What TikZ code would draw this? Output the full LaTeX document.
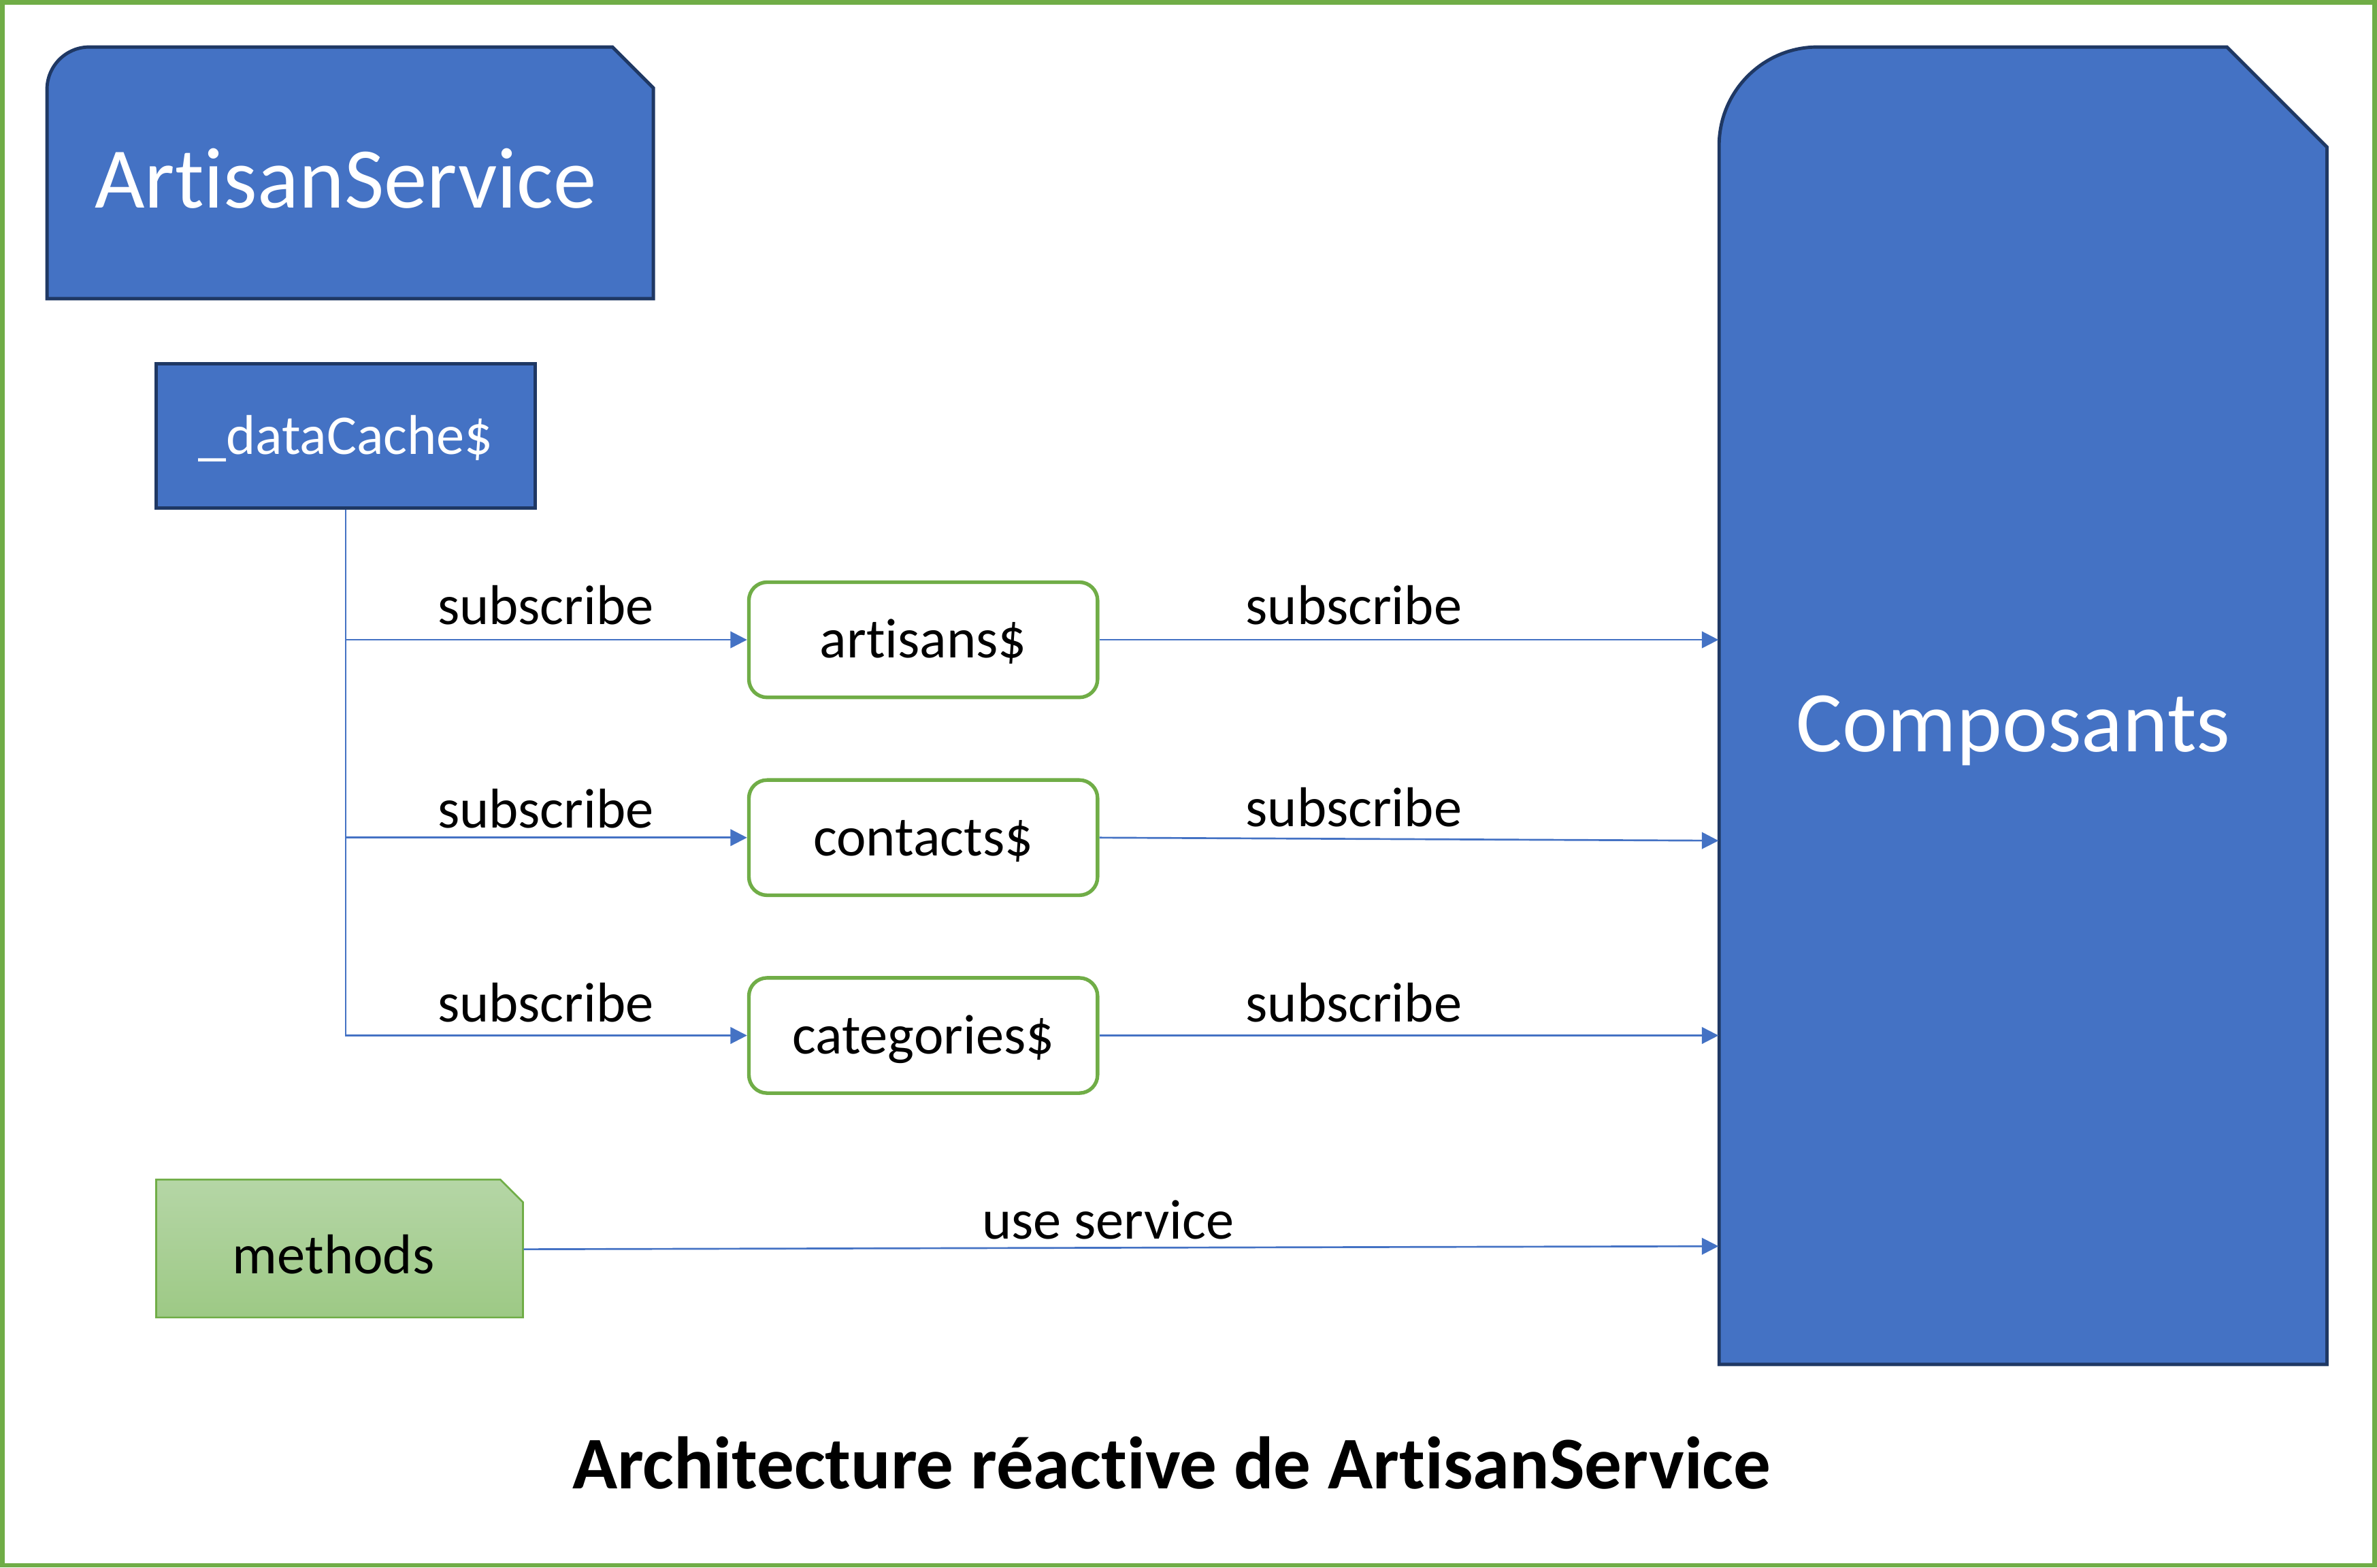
\documentclass[tikz,border=0pt]{standalone}
\usepackage{fontspec}
\setmainfont{Carlito}[Ligatures=NoCommon]
\usetikzlibrary{calc,arrows.meta}
\definecolor{blueF}{HTML}{4472C4}
\definecolor{navy}{HTML}{1F3864}
\definecolor{grn}{HTML}{70AD47}
\definecolor{gtop}{HTML}{B5D6A6}
\definecolor{gbot}{HTML}{9DC985}
\begin{document}
\begin{tikzpicture}[x=0.5pt,y=-0.5pt,
  smallfont/.style={font=\fontsize{18.5}{20}\selectfont},
  lbl/.style={smallfont, inner sep=0, anchor=base},
  conn/.style={draw=blueF, line width=0.6pt},
  arr/.style={conn, -{Triangle[length=5.5pt,width=5.5pt]}},
  stream/.style={draw=grn, line width=1.2pt, rounded corners=6pt, fill=white,
    minimum width=115pt, minimum height=38pt, inner sep=0, smallfont,
    text height=15pt, text depth=3pt},
  bigtxt/.style={text=white, font=\fontsize{28.5}{32}\selectfont, inner sep=0, anchor=base}]
\useasboundingbox (0,0) rectangle (1568,1034);
\draw[grn, line width=1.45pt] (1.5,1.5) rectangle (1566.5,1032.5);

% ArtisanService shape
\draw[fill=blueF, draw=navy, line width=1.1pt]
  (31,197) -- (31,59) .. controls (31,43.5) and (43.5,31) .. (59,31)
  -- (404,31) -- (431,58) -- (431,197) -- cycle;
\node[bigtxt] (svc) at (228,137) {ArtisanService};

% Composants shape
\draw[fill=blueF, draw=navy, line width=1.1pt]
  (1134,900) -- (1134,96) .. controls (1134,60.1) and (1163.1,31) .. (1199,31)
  -- (1469,31) -- (1535,97) -- (1535,900) -- cycle;
\node[inner sep=0, minimum width=200.5pt, minimum height=434.5pt] (comp) at (1334.5,465.5) {};
\node[bigtxt] (comptxt) at (1328,496) {Composants};

% dataCache
\node[fill=blueF, draw=navy, line width=1.1pt, minimum width=125pt, minimum height=47.5pt,
  inner sep=0, smallfont, text=white, text height=15pt, text depth=3pt] (dc) at (228,287.5) {\_dataCache\$};

% streams
\node[stream] (art) at (609,422) {artisans\$};
\node[stream] (con) at (609,552.5) {contacts\$};
\node[stream] (cat) at (609,683) {categories\$};

% methods
\draw[top color=gtop, bottom color=gbot, draw=grn, line width=0.6pt]
  (103,778) -- (330,778) -- (345,793) -- (345,869) -- (103,869) -- cycle;
\node[inner sep=0, minimum width=121pt, minimum height=45.5pt] (meth) at (224,823.5) {};
\node[lbl] (methtxt) at (220,840) {methods};

% connectors
\draw[arr] (dc.south) |- (art.west);
\draw[arr] (dc.south) |- (con.west);
\draw[arr] (dc.south) |- (cat.west);
\draw[arr] (art.east) -- (art.east -| comp.west);
\draw[arr] (con.east) -- ($(con.east -| comp.west)+(0,2)$);
\draw[arr] (cat.east) -- (cat.east -| comp.west);
\draw[arr] ($(meth.east)+(0,0.5)$) -- ($(meth.east -| comp.west)+(0,-1.5)$);

% labels
\node[lbl] (l1) at (360,412) {subscribe};
\node[lbl] (l2) at (360,546) {subscribe};
\node[lbl] (l3) at (360,674) {subscribe};
\node[lbl] (r1) at (893,412) {subscribe};
\node[lbl] (r2) at (893,545) {subscribe};
\node[lbl] (r3) at (893,674) {subscribe};
\node[lbl] (us) at (731,817) {use service};

% title
\node[inner sep=0, anchor=base, font=\bfseries\fontsize{24.5}{28}\selectfont] (title) at (773,982)
  {Architecture réactive de ArtisanService};
\end{tikzpicture}
\end{document}
